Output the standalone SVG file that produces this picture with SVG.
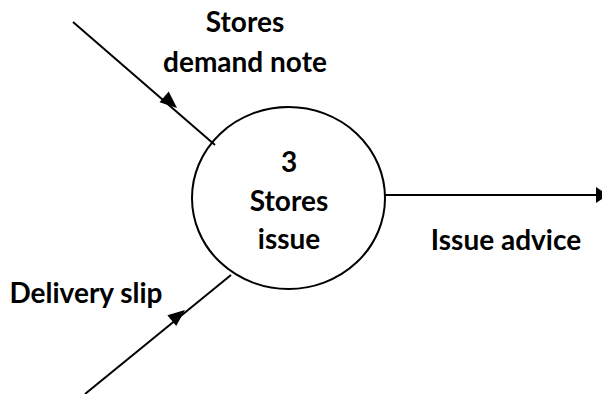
<svg xmlns="http://www.w3.org/2000/svg" width="602" height="394" viewBox="0 0 602 394">
  <style>
    .lbl { font-family: "Lato", "Liberation Sans", sans-serif; font-weight: bold; font-size: 28px; fill: #000; text-anchor: middle; }
    .flow { stroke: #000; stroke-width: 2; fill: none; }
  </style>
  <rect width="602" height="394" fill="#fff"/>

  <!-- process bubble -->
  <g id="process-3">
    <ellipse cx="288.5" cy="198" rx="96.5" ry="91" fill="#fff" stroke="#000" stroke-width="2"/>
    <text class="lbl" x="289" y="172">3</text>
    <text class="lbl" x="289" y="211">Stores</text>
    <text class="lbl" x="289" y="249">issue</text>
  </g>

  <!-- data flows -->
  <g id="connectors">
    <line class="flow" x1="73" y1="22" x2="215" y2="145"/>
    <polygon points="177,108 159.5,102.2 168.7,91.6" fill="#000"/>
    <line class="flow" x1="85" y1="394" x2="231" y2="275"/>
    <polygon points="185,310 176.2,326.1 167.4,315.3" fill="#000"/>
    <line class="flow" x1="385" y1="195" x2="602" y2="195"/>
    <polygon points="596,187 608,195 596,203" fill="#000"/>
  </g>

  <g id="label-demand">
    <text class="lbl" x="245" y="32">Stores</text>
    <text class="lbl" x="245" y="72">demand note</text>
  </g>
  <g id="label-delivery">
    <text class="lbl" x="86" y="303">Delivery slip</text>
  </g>
  <g id="label-advice">
    <text class="lbl" x="506" y="250">Issue advice</text>
  </g>
</svg>
